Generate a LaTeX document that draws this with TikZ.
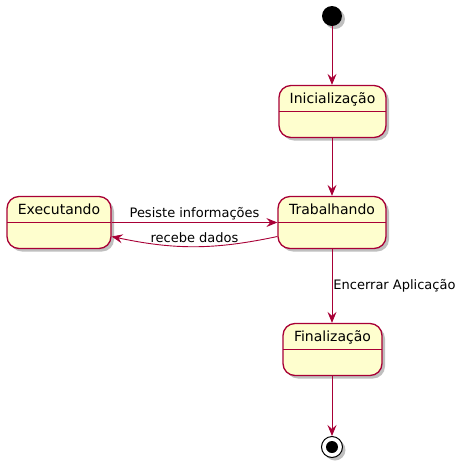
\documentclass[tikz,border=0pt]{standalone}
\usepackage{fontspec}
\setmainfont{DejaVu Sans}
\usetikzlibrary{arrows.meta,shadows}
\definecolor{umlred}{HTML}{A80036}
\definecolor{umlfill}{HTML}{FEFECE}
\tikzset{
  umlstate/.style = {draw=umlred, fill=umlfill, line width=1.3pt,
                     rounded corners=12pt, minimum height=49pt,
                     inner xsep=0pt, inner ysep=3pt,
                     text height=15pt, text depth=31pt, font=\fontsize{14}{16}\selectfont,
                     drop shadow={shadow xshift=3pt, shadow yshift=-3pt, fill=black, opacity=0.25},
                     path picture={\draw[umlred, line width=1pt]
                       ([yshift=-26pt]path picture bounding box.north west) --
                       ([yshift=-26pt]path picture bounding box.north east);}},
  startdot/.style = {circle, fill=black, minimum size=20pt, inner sep=0pt,
                     drop shadow={shadow xshift=3pt, shadow yshift=-3pt, fill=black, opacity=0.25}},
  enddot/.style   = {circle, draw=black, fill=white, line width=1pt, minimum size=21pt, inner sep=0pt,
                     drop shadow={shadow xshift=3pt, shadow yshift=-3pt, fill=black, opacity=0.25},
                     path picture={\fill[black] (path picture bounding box.center) circle (6pt);}},
  trans/.style    = {-{Stealth[length=11pt, width=9pt, inset=4pt]}, umlred, line width=0.9pt},
  lbl/.style      = {font=\fontsize{13}{15}\selectfont, text=black, inner sep=2pt},
}

\begin{document}
\begin{tikzpicture}[x=1pt,y=-1pt]
\useasboundingbox (0,0) rectangle (459,467);
% estados
\node[startdot] (ini) at (332,16) {};
\node[umlstate, minimum width=107pt] (inic) at (332.5,111.5) {Inicialização};
\node[umlstate, minimum width=108pt] (trab) at (332,222.5) {Trabalhando};
\node[umlstate, minimum width=104pt] (exec) at (59,222.5) {Executando};
\node[umlstate, minimum width=99pt] (fina) at (332.5,349.5) {Finalização};
\node[enddot] (fim) at (332,447) {};
% transicoes
\draw[trans] (ini) -- (ini |- inic.north);
\draw[trans] (ini |- inic.south) -- (ini |- trab.north);
\draw[trans] (exec.east) -- node[lbl, above] {Pesiste informações} (trab.west);
\draw[trans] ([yshift=-14pt]trab.west) to[bend left=12]
  node[lbl, above=1pt, pos=0.5] {recebe dados} ([yshift=-14pt]exec.east);
\draw[trans] (ini |- trab.south) -- node[lbl, right, inner sep=1pt] {Encerrar Aplicação} (ini |- fina.north);
\draw[trans] (ini |- fina.south) -- (fim);
\end{tikzpicture}
\end{document}
